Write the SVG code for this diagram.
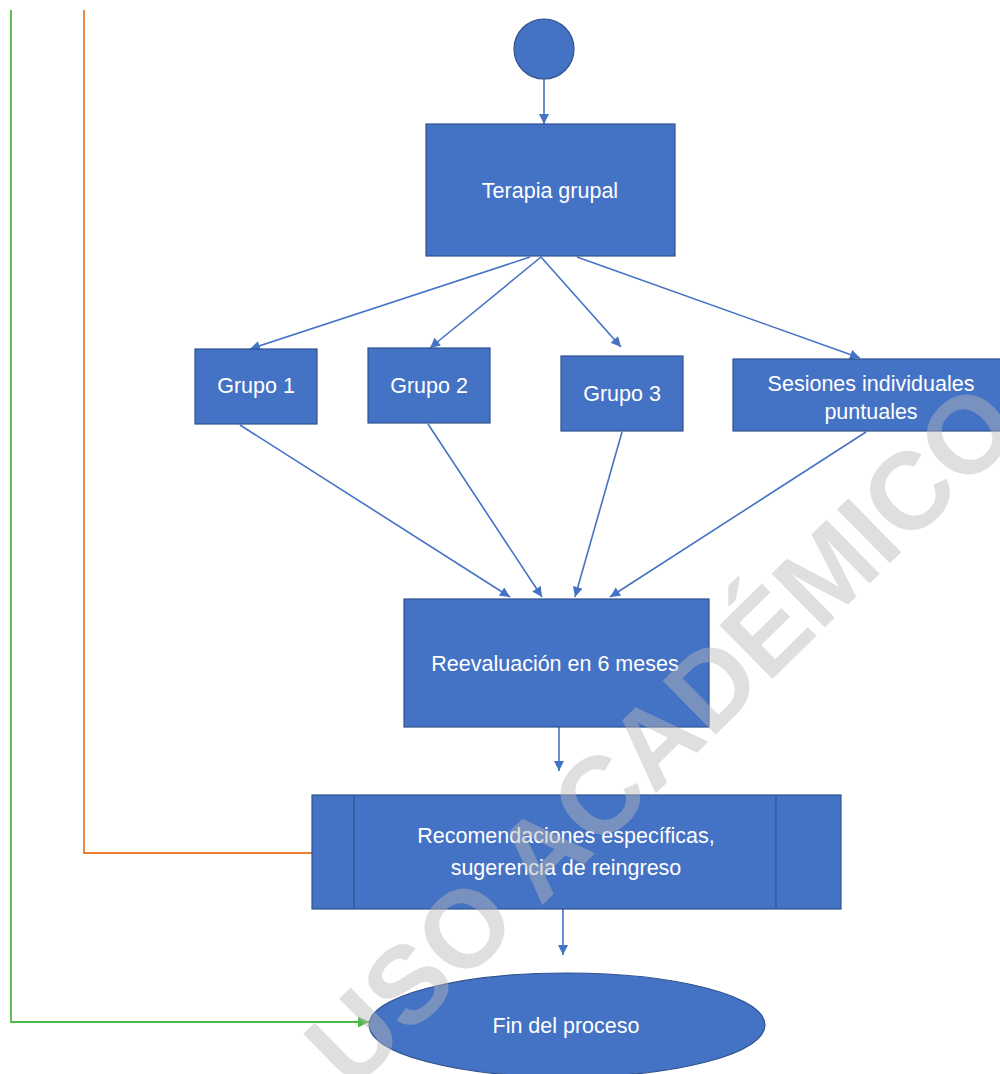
<svg xmlns="http://www.w3.org/2000/svg" width="1000" height="1074" viewBox="0 0 1000 1074">
<style>
.n{fill:#4472C4;stroke:#2F528F;stroke-width:1.2}
.t{fill:#ffffff;font-family:"Liberation Sans",Arial,sans-serif;font-size:21.5px;text-anchor:middle}
.e{fill:none;stroke:#4472C4;stroke-width:1.6}
.wm{fill:#b9b9b9;fill-opacity:0.45;font-family:"Liberation Sans",Arial,sans-serif;font-weight:bold;font-size:110px;text-anchor:middle}
</style>
<defs>
<marker id="ab" viewBox="0 0 10 10" refX="10" refY="5" markerWidth="11" markerHeight="10" markerUnits="userSpaceOnUse" orient="auto">
<path d="M0,0 L10,5 L0,10 z" fill="#4472C4"/>
</marker>
<marker id="ag" viewBox="0 0 10 10" refX="10" refY="5" markerWidth="12" markerHeight="11" markerUnits="userSpaceOnUse" orient="auto">
<path d="M0,0 L10,5 L0,10 z" fill="#4CB944"/>
</marker>
</defs>
<rect width="1000" height="1074" fill="#ffffff"/>
<g id="connectors">
<line class="e" x1="544" y1="79" x2="544" y2="124" marker-end="url(#ab)"/>
<line class="e" x1="530" y1="257" x2="250" y2="349" marker-end="url(#ab)"/>
<line class="e" x1="541" y1="257" x2="430" y2="348" marker-end="url(#ab)"/>
<line class="e" x1="541" y1="257" x2="621" y2="347" marker-end="url(#ab)"/>
<line class="e" x1="577" y1="257" x2="860" y2="358" marker-end="url(#ab)"/>
<line class="e" x1="240" y1="425" x2="510" y2="597" marker-end="url(#ab)"/>
<line class="e" x1="428" y1="424" x2="542" y2="597" marker-end="url(#ab)"/>
<line class="e" x1="622" y1="432" x2="575" y2="597" marker-end="url(#ab)"/>
<line class="e" x1="866" y1="432" x2="610" y2="597" marker-end="url(#ab)"/>
<line class="e" x1="559" y1="727" x2="559" y2="771" marker-end="url(#ab)"/>
<line class="e" x1="563" y1="909" x2="563" y2="955" marker-end="url(#ab)"/>
<polyline points="84,10 84,853 312,853" fill="none" stroke="#ED7D31" stroke-width="1.8"/>
<polyline points="11,10 11,1022 369,1022" fill="none" stroke="#4CB944" stroke-width="1.8" marker-end="url(#ag)"/>
</g>
<g id="start"><circle class="n" cx="544" cy="49" r="30"/></g>
<g id="terapia"><rect class="n" x="426" y="124" width="249" height="132"/><text class="t" x="550" y="198">Terapia grupal</text></g>
<g id="grupo1"><rect class="n" x="195" y="349" width="122" height="75"/><text class="t" x="256" y="393">Grupo 1</text></g>
<g id="grupo2"><rect class="n" x="368" y="348" width="122" height="75"/><text class="t" x="429" y="393">Grupo 2</text></g>
<g id="grupo3"><rect class="n" x="561" y="356" width="122" height="75"/><text class="t" x="622" y="401">Grupo 3</text></g>
<g id="sesiones"><rect class="n" x="733" y="359" width="280" height="72"/><text class="t" x="871" y="391">Sesiones individuales</text><text class="t" x="871" y="419">puntuales</text></g>
<g id="reevaluacion"><rect class="n" x="404" y="599" width="305" height="128"/><text class="t" x="555" y="671">Reevaluación en 6 meses</text></g>
<g id="recomendaciones"><rect class="n" x="312" y="795" width="529" height="114"/><line x1="354" y1="795" x2="354" y2="909" stroke="#2F528F" stroke-width="1.2"/><line x1="776" y1="795" x2="776" y2="909" stroke="#2F528F" stroke-width="1.2"/><text class="t" x="566" y="843">Recomendaciones específicas,</text><text class="t" x="566" y="875">sugerencia de reingreso</text></g>
<g id="fin"><ellipse class="n" cx="567" cy="1025" rx="198" ry="52"/><text class="t" x="566" y="1033">Fin del proceso</text></g>
<text class="wm" transform="translate(688,762) rotate(-44.5)">USO ACADÉMICO</text>
</svg>
